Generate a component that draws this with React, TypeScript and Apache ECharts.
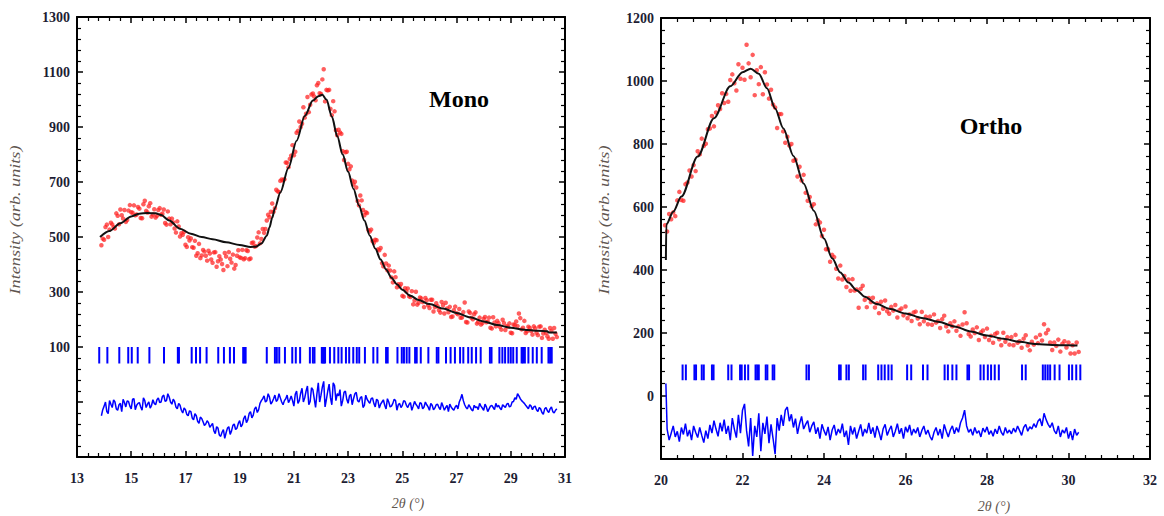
import React, { useEffect, useRef } from "react";
import * as echarts from "echarts";

// ---------- Mono panel ----------
const monoStart = 13.9;
const monoStep = 0.1;
// observed intensities at 13.9, 14.0, ... 30.7
const monoObs = [
  470, 490, 545, 527, 546, 531, 577, 600, 567, 555,
  596, 590, 615, 582, 603, 568, 632, 589, 623, 582,
  571, 598, 581, 600, 545, 567, 567, 531, 557, 502,
  508, 472, 499, 495, 461, 432, 475, 433, 447, 414,
  440, 406, 445, 412, 418, 380, 429, 445, 407, 385,
  432, 426, 453, 423, 449, 422, 480, 467, 517, 493,
  515, 560, 572, 622, 605, 666, 704, 706, 771, 754,
  796, 797, 879, 920, 912, 934, 1009, 981, 1022, 997,
  1060, 1020, 1110, 1035, 1035, 943, 957, 870, 880, 812,
  808, 766, 757, 691, 680, 615, 633, 579, 587, 520,
  485, 490, 455, 460, 393, 404, 396, 353, 375, 317,
  321, 286, 314, 313, 282, 255, 301, 261, 277, 245,
  270, 242, 272, 245, 248, 225, 252, 261, 226, 209,
  234, 223, 238, 207, 262, 189, 224, 201, 226, 191,
  182, 203, 190, 207, 167, 189, 195, 173, 199, 162,
  174, 152, 182, 193, 222, 164, 195, 157, 169, 145,
  168, 143, 175, 149, 152, 130, 158, 169, 136,
];
// observed intensities at 13.95, 14.05, ... 30.65
const monoObsMid = [
  494, 536, 500, 552, 536, 586, 546, 579, 598, 562,
  616, 588, 579, 609, 569, 619, 595, 612, 574, 601,
  577, 605, 585, 551, 593, 546, 553, 516, 538, 514,
  519, 464, 487, 463, 486, 441, 423, 453, 432, 450,
  418, 444, 392, 430, 402, 442, 394, 421, 436, 398,
  452, 424, 419, 452, 419, 478, 465, 498, 477, 529,
  529, 581, 592, 592, 672, 664, 709, 710, 770, 784,
  834, 810, 886, 900, 972, 948, 954, 1018, 1011, 1052,
  1023, 1073, 993, 1033, 966, 994, 888, 890, 875, 780,
  810, 746, 705, 701, 631, 651, 598, 590, 525, 527,
  479, 488, 452, 405, 435, 379, 378, 335, 354, 328,
  329, 283, 302, 284, 303, 269, 254, 280, 263, 278,
  252, 272, 229, 259, 234, 264, 222, 240, 246, 211,
  247, 219, 206, 227, 191, 229, 206, 219, 185, 207,
  186, 209, 193, 170, 208, 175, 187, 163, 187, 176,
  186, 150, 180, 176, 205, 170, 151, 174, 158, 175,
  152, 174, 133, 163, 139, 169, 130, 148,
];
// difference curve at 13.9, 14.0, ... 30.7
const monoDiff = [
  -150, -115, -135, -95, -120, -100, -130, -105, -90, -118,
  -98, -125, -88, -112, -102, -130, -95, -108, -122, -92,
  -110, -85, -100, -75, -95, -82, -108, -98, -125, -112,
  -140, -128, -150, -135, -165, -150, -178, -160, -185, -168,
  -192, -178, -215, -195, -225, -200, -212, -190, -205, -180,
  -195, -168, -182, -150, -165, -135, -148, -118, -128, -95,
  -78, -95, -82, -100, -75, -92, -85, -110, -88, -102,
  -78, -115, -60, -95, -50, -85, -42, -98, -55, -120,
  -30, -75, -25, -90, -35, -110, -40, -70, -55, -95,
  -60, -105, -72, -88, -65, -100, -80, -112, -90, -105,
  -85, -118, -95, -108, -92, -125, -100, -115, -90, -130,
  -105, -112, -98, -120, -102, -115, -108, -125, -105, -118,
  -110, -130, -112, -122, -108, -128, -115, -120, -135, -118,
  -130, -112, -100, -72, -110, -125, -118, -132, -120, -128,
  -115, -130, -118, -125, -112, -128, -118, -122, -110, -120,
  -105, -115, -98, -90, -78, -95, -105, -118, -110, -128,
  -115, -135, -125, -145, -120, -138, -118, -140, -125,
];
// difference curve at 13.95, 14.05, ... 30.65
const monoDiffMid = [
  -128, -100, -142, -108, -92, -125, -110, -135, -102, -96,
  -115, -90, -128, -105, -118, -85, -120, -100, -112, -105,
  -92, -102, -80, -98, -70, -100, -90, -118, -105, -130,
  -122, -145, -132, -158, -142, -170, -155, -172, -180, -175,
  -185, -205, -190, -220, -210, -232, -195, -218, -185, -200,
  -178, -190, -160, -175, -142, -158, -125, -138, -105, -88,
  -100, -70, -108, -88, -98, -70, -100, -95, -75, -92,
  -95, -72, -105, -68, -100, -60, -110, -48, -88, -70,
  -100, -45, -118, -60, -85, -30, -95, -78, -115, -65,
  -90, -78, -110, -70, -95, -85, -120, -75, -98, -88,
  -105, -90, -122, -100, -112, -88, -118, -105, -95, -110,
  -120, -95, -112, -108, -130, -98, -115, -102, -125, -100,
  -118, -105, -128, -110, -120, -102, -130, -112, -108, -125,
  -118, -125, -88, -95, -120, -110, -128, -112, -118, -105,
  -122, -108, -135, -115, -120, -105, -112, -128, -115, -108,
  -118, -100, -85, -70, -88, -100, -112, -125, -115, -118,
  -128, -120, -138, -125, -132, -125, -135, -130,
];
const monoCalc = [
  [13.85, 500], [14.2, 522], [14.6, 550], [15.0, 575], [15.3, 585], [15.6, 587],
  [15.9, 586], [16.1, 580], [16.4, 560], [16.8, 530], [17.2, 512], [17.6, 500],
  [18.0, 492], [18.5, 481], [19.0, 471], [19.4, 464], [19.6, 465], [19.8, 476],
  [20.0, 505], [20.1, 535], [20.2, 570], [20.3, 605], [20.5, 662], [20.8, 752],
  [21.1, 850], [21.4, 940], [21.7, 996], [21.9, 1012], [22.05, 1017], [22.2, 1000],
  [22.4, 938], [22.6, 866], [22.8, 800], [23.0, 737], [23.2, 675], [23.4, 615],
  [23.6, 560], [23.8, 505], [24.0, 458], [24.2, 418], [24.4, 382], [24.6, 352],
  [24.8, 328], [25.0, 308], [25.3, 286], [25.6, 271], [26.0, 256], [26.5, 240],
  [27.0, 224], [27.5, 208], [28.0, 193], [28.5, 180], [29.0, 170], [29.5, 163],
  [30.0, 159], [30.35, 157], [30.4, 153], [30.7, 153],
];
const monoBragg = [
  13.82, 14.12, 14.56, 14.89, 15.02, 15.24, 15.67, 16.21, 16.72, 16.76, 17.23, 17.39,
  17.54, 17.78, 18.21, 18.42, 18.64, 18.79, 19.13, 19.18, 19.22, 20.0, 20.3, 20.37,
  20.46, 20.67, 20.94, 21.07, 21.23, 21.59, 21.7, 21.76, 22.03, 22.07, 22.11, 22.15,
  22.33, 22.49, 22.64, 22.76, 22.92, 23.04, 23.19, 23.32, 23.41, 23.62, 23.93, 24.08,
  24.4, 24.46, 24.82, 24.98, 25.06, 25.16, 25.26, 25.47, 25.53, 25.68, 25.96, 26.27,
  26.33, 26.61, 26.78, 26.94, 27.13, 27.25, 27.43, 27.56, 27.72, 27.89, 28.23, 28.29,
  28.58, 28.69, 28.79, 28.91, 29.0, 29.09, 29.22, 29.4, 29.45, 29.52, 29.65, 29.81,
  29.96, 30.14, 30.39, 30.45, 30.51,
];
const monoBraggLow = 40;
const monoBraggHigh = 100;

// ---------- Ortho panel ----------
const orthoStart = 20.1;
const orthoStep = 0.05;
const orthoObs = [
  542, 522, 578, 561, 583, 571, 621, 648, 622, 620,
  672, 678, 716, 697, 733, 714, 777, 767, 817, 794,
  801, 847, 849, 889, 856, 900, 923, 911, 961, 930,
  959, 934, 1003, 1021, 993, 970, 1053, 1007, 1042, 1004,
  1115, 1056, 1012, 1083, 955, 1034, 990, 1044, 958, 1028,
  989, 944, 972, 925, 916, 851, 895, 895, 840, 804,
  823, 795, 800, 747, 750, 697, 728, 684, 702, 645,
  620, 632, 602, 609, 545, 558, 551, 508, 528, 466,
  466, 426, 448, 441, 404, 373, 414, 370, 381, 346,
  370, 334, 371, 335, 338, 280, 340, 350, 305, 282,
  311, 298, 312, 281, 294, 263, 299, 277, 303, 269,
  261, 283, 271, 289, 249, 272, 278, 256, 284, 247,
  259, 238, 265, 268, 246, 228, 267, 237, 252, 228,
  252, 226, 259, 233, 238, 216, 244, 255, 221, 205,
  231, 221, 237, 207, 221, 191, 227, 266, 231, 197,
  189, 211, 200, 218, 178, 202, 208, 187, 214, 178,
  191, 169, 197, 201, 180, 161, 201, 172, 187, 163,
  187, 161, 194, 169, 174, 153, 182, 193, 160, 145,
  172, 163, 186, 168, 194, 176, 228, 199, 210, 170,
  146, 170, 159, 179, 141, 166, 174, 154, 170, 135,
  161, 135, 170, 140,
];
const orthoDiff = [
  40, -105, -140, -118, -95, -130, -112, -145, -100, -122,
  -88, -128, -108, -140, -95, -115, -132, -100, -125, -148,
  -110, -135, -92, -118, -78, -105, -128, -85, -112, -75,
  -120, -95, -140, -70, -105, -132, -60, -118, -45, -25,
  -110, -160, -70, -190, -95, -130, -55, -175, -85, -120,
  -65, -150, -90, -135, -185, -70, -110, -60, -95, -45,
  -35, -80, -58, -100, -72, -120, -88, -65, -105, -90,
  -78, -115, -95, -82, -120, -100, -135, -90, -110, -125,
  -98, -140, -108, -92, -125, -105, -118, -88, -130, -110,
  -155, -95, -122, -100, -135, -112, -90, -128, -105, -118,
  -85, -120, -100, -132, -95, -115, -140, -105, -90, -125,
  -108, -95, -130, -112, -88, -120, -102, -135, -98, -115,
  -92, -125, -105, -118, -100, -130, -110, -95, -122, -108,
  -128, -140, -115, -100, -125, -105, -135, -90, -112, -130,
  -108, -95, -120, -100, -115, -85, -70, -45, -95, -115,
  -105, -125, -100, -118, -110, -130, -102, -115, -98, -122,
  -110, -128, -105, -120, -95, -115, -125, -100, -118, -108,
  -120, -102, -115, -95, -110, -125, -100, -90, -112, -98,
  -105, -88, -100, -80, -72, -95, -55, -75, -90, -100,
  -85, -110, -120, -95, -130, -108, -118, -100, -135, -112,
  -140, -105, -125, -115,
];
const orthoCalc = [
  [20.12, 432], [20.13, 545], [20.3, 585], [20.5, 633], [20.9, 760], [21.3, 882],
  [21.7, 983], [22.0, 1028], [22.2, 1039], [22.4, 1023], [22.6, 977], [22.8, 913],
  [23.0, 850], [23.25, 762], [23.5, 675], [23.75, 588], [24.0, 500], [24.2, 437],
  [24.4, 392], [24.6, 360], [24.8, 336], [25.0, 315], [25.3, 292], [25.6, 277],
  [26.0, 262], [26.4, 248], [26.8, 236], [27.2, 221], [27.6, 205], [28.0, 192],
  [28.4, 182], [28.8, 172], [29.2, 165], [29.6, 162], [30.0, 161], [30.22, 160],
];
const orthoBragg = [
  20.53, 20.61, 20.82, 20.86, 21.0, 21.05, 21.25, 21.29, 21.65, 21.73, 21.94, 21.98,
  22.06, 22.14, 22.32, 22.36, 22.4, 22.57, 22.61, 22.74, 22.78, 23.57, 23.63, 24.37,
  24.41, 24.55, 24.61, 24.96, 25.02, 25.33, 25.41, 25.49, 25.58, 25.66, 26.04, 26.14,
  26.43, 26.54, 26.96, 27.04, 27.15, 27.25, 27.52, 27.56, 27.84, 27.92, 28.02, 28.1,
  28.19, 28.29, 28.86, 28.95, 29.37, 29.43, 29.49, 29.55, 29.66, 29.78, 30.01, 30.09,
  30.19, 30.29,
];
const orthoBraggLow = 50;
const orthoBraggHigh = 100;

const serif = '"Liberation Serif", "Times New Roman", serif';
const tickLabelColor = "#1d1d33";
const nameColor = "#5f5650";
const obsColor = "rgba(255,32,32,0.9)";

function interleave(start: number, step: number, main: number[], mid: number[]) {
  const out: number[][] = [];
  main.forEach((y, i) => {
    out.push([start + i * step, y]);
    if (i < mid.length) out.push([start + step / 2 + i * step, mid[i]]);
  });
  return out;
}

function xAxes(gridIndex: number, min: number, max: number) {
  const base: any = {
    type: "value",
    gridIndex,
    min,
    max,
    interval: 2,
    axisLine: { show: true, onZero: false, lineStyle: { color: "#000", width: 2 } },
    axisTick: { show: true, inside: true, length: 6, lineStyle: { color: "#000", width: 1.5 } },
    minorTick: { show: true, splitNumber: 5, length: 4, lineStyle: { color: "#000", width: 1.2 } },
    splitLine: { show: false },
    minorSplitLine: { show: false },
  };
  return [
    {
      ...base,
      position: "bottom",
      axisLabel: { show: true, margin: 14, color: tickLabelColor, fontFamily: serif, fontWeight: "bold", fontSize: 14 },
    },
    { ...base, position: "top", axisLabel: { show: false } },
  ];
}

function yAxes(gridIndex: number, min: number, max: number, firstLabel: number) {
  const base: any = {
    type: "value",
    gridIndex,
    min,
    max,
    interval: 200,
    axisLine: { show: true, onZero: false, lineStyle: { color: "#000", width: 2 } },
    axisTick: { show: true, inside: true, length: 6, lineStyle: { color: "#000", width: 1.5 } },
    minorTick: { show: true, splitNumber: 5, length: 4, lineStyle: { color: "#000", width: 1.2 } },
    splitLine: { show: false },
    minorSplitLine: { show: false },
  };
  return [
    {
      ...base,
      position: "left",
      axisLabel: {
        show: true,
        margin: 7,
        color: tickLabelColor,
        fontFamily: serif,
        fontWeight: "bold",
        fontSize: 14,
        formatter: (v: number) => (v < firstLabel ? "" : String(v)),
      },
    },
    { ...base, position: "right", axisLabel: { show: false } },
  ];
}

function braggSeries(xAxisIndex: number, yAxisIndex: number, pos: number[], lo: number, hi: number) {
  return {
    type: "custom",
    xAxisIndex,
    yAxisIndex,
    silent: true,
    z: 3,
    data: pos.map((p) => [p, lo, hi]),
    renderItem: (_params: any, api: any) => {
      const x = api.value(0);
      const a = api.coord([x, api.value(1)]);
      const b = api.coord([x, api.value(2)]);
      return {
        type: "line",
        shape: { x1: a[0], y1: a[1], x2: b[0], y2: b[1] },
        style: { stroke: "#0000ff", lineWidth: 2 },
      };
    },
  };
}

export default function App() {
  const ref = useRef<HTMLDivElement>(null);
  useEffect(() => {
    if (!ref.current) return;
    const chart = echarts.init(ref.current, undefined, { renderer: "svg" });
    const monoObsData = interleave(monoStart, monoStep, monoObs, monoObsMid);
    const monoDiffData = interleave(monoStart, monoStep, monoDiff, monoDiffMid);
    const orthoObsData = orthoObs.map((y, i) => [orthoStart + i * orthoStep, y]);
    const orthoDiffData = [[20.12, orthoDiff[0]], ...orthoDiff.slice(1).map((y, i) => [orthoStart + (i + 1) * orthoStep, y])];

    const option: any = {
      animation: false,
      backgroundColor: "#ffffff",
      grid: [
        { left: 77, top: 17, width: 488, height: 440 },
        { left: 661, top: 18, width: 489, height: 441 },
      ],
      xAxis: [...xAxes(0, 13, 31), ...xAxes(1, 20, 32)],
      yAxis: [...yAxes(0, -300, 1300, 100), ...yAxes(1, -200, 1200, 0)],
      series: [
        {
          type: "scatter",
          xAxisIndex: 0,
          yAxisIndex: 0,
          data: monoObsData,
          symbol: "circle",
          symbolSize: 4.5,
          itemStyle: { color: obsColor },
          z: 2,
        },
        {
          type: "line",
          xAxisIndex: 0,
          yAxisIndex: 0,
          data: monoCalc,
          showSymbol: false,
          smooth: 0.3,
          smoothMonotone: "x",
          lineStyle: { color: "#111", width: 2 },
          z: 4,
        },
        braggSeries(0, 0, monoBragg, monoBraggLow, monoBraggHigh),
        {
          type: "line",
          xAxisIndex: 0,
          yAxisIndex: 0,
          data: monoDiffData,
          showSymbol: false,
          lineStyle: { color: "#0000ff", width: 1.5 },
          z: 3,
        },
        {
          type: "scatter",
          xAxisIndex: 2,
          yAxisIndex: 2,
          data: orthoObsData,
          symbol: "circle",
          symbolSize: 4.5,
          itemStyle: { color: obsColor },
          z: 2,
        },
        {
          type: "line",
          xAxisIndex: 2,
          yAxisIndex: 2,
          data: orthoCalc,
          showSymbol: false,
          smooth: 0.3,
          smoothMonotone: "x",
          lineStyle: { color: "#111", width: 2 },
          z: 4,
        },
        braggSeries(2, 2, orthoBragg, orthoBraggLow, orthoBraggHigh),
        {
          type: "line",
          xAxisIndex: 2,
          yAxisIndex: 2,
          data: orthoDiffData,
          showSymbol: false,
          lineStyle: { color: "#0000ff", width: 1.5 },
          z: 3,
        },
      ],
      graphic: [
        {
          type: "text",
          x: 459,
          y: 99,
          style: { text: "Mono", font: `bold 24px ${serif}`, fill: "#000", align: "center", verticalAlign: "middle" },
        },
        {
          type: "text",
          x: 991,
          y: 126,
          style: { text: "Ortho", font: `bold 24px ${serif}`, fill: "#000", align: "center", verticalAlign: "middle" },
        },
        {
          type: "text",
          x: 16,
          y: 220,
          rotation: Math.PI / 2,
          scaleX: 1.3,
          style: { text: "Intensity (arb. units)", font: `italic 14px ${serif}`, fill: nameColor, align: "center", verticalAlign: "middle" },
        },
        {
          type: "text",
          x: 605,
          y: 220,
          rotation: Math.PI / 2,
          scaleX: 1.3,
          style: { text: "Intensity (arb. units)", font: `italic 14px ${serif}`, fill: nameColor, align: "center", verticalAlign: "middle" },
        },
        {
          type: "text",
          x: 408,
          y: 503,
          style: { text: "2θ (°)", font: `italic 14px ${serif}`, fill: nameColor, align: "center", verticalAlign: "middle" },
        },
        {
          type: "text",
          x: 994,
          y: 506,
          style: { text: "2θ (°)", font: `italic 14px ${serif}`, fill: nameColor, align: "center", verticalAlign: "middle" },
        },
      ],
    };
    chart.setOption(option);
    return () => chart.dispose();
  }, []);
  return <div ref={ref} style={{ position: "fixed", left: 0, top: 0, width: 1164, height: 516, background: "#fff" }} />;
}
